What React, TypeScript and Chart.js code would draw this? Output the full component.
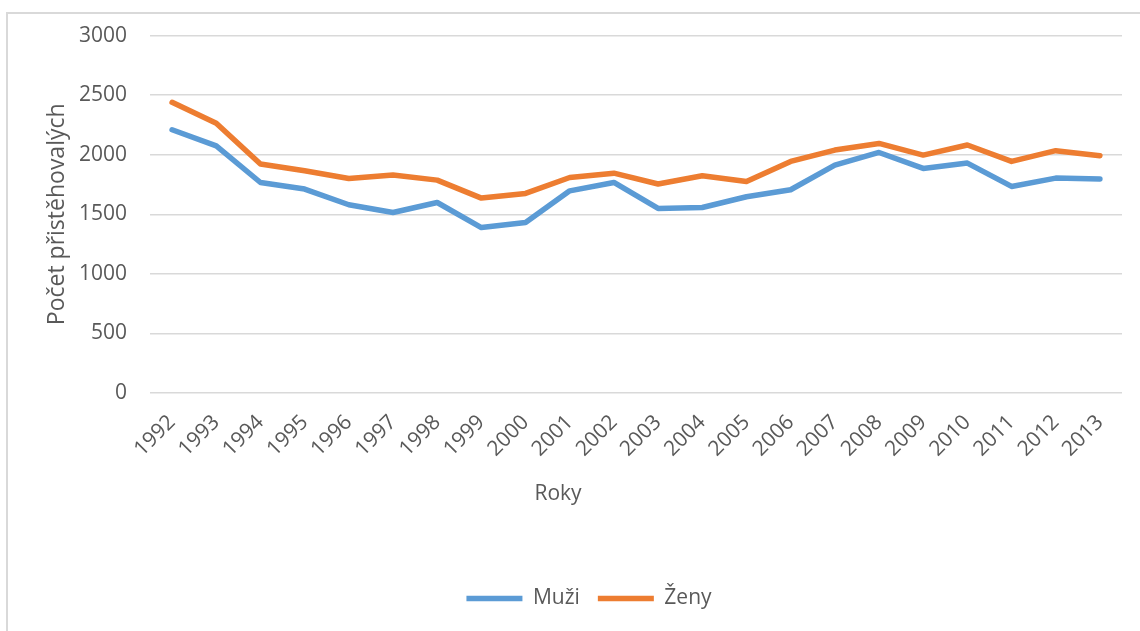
import { useEffect, useRef } from "react";
import { Chart, registerables } from "chart.js";

Chart.register(...registerables);

const years = [
  "1992", "1993", "1994", "1995", "1996", "1997", "1998", "1999", "2000", "2001", "2002",
  "2003", "2004", "2005", "2006", "2007", "2008", "2009", "2010", "2011", "2012", "2013",
];
const muzi = [2210, 2075, 1767, 1712, 1580, 1515, 1599, 1389, 1431, 1697, 1767, 1549, 1557, 1647, 1706, 1913, 2019, 1885, 1930, 1734, 1804, 1796];
const zeny = [2440, 2265, 1922, 1866, 1801, 1829, 1787, 1636, 1675, 1809, 1845, 1754, 1824, 1776, 1944, 2039, 2095, 1997, 2082, 1944, 2034, 1992];
const yAxisTitle = "Počet přistěhovalých";
const xAxisTitle = "Roky";
const seriesNames = ["Muži", "Ženy"];

const FONT = '"Open Sans", sans-serif';
const TEXT = "#595959";
const GRID = "#d9d9d9";

const xTitlePlugin = {
  id: "xTitle",
  afterDraw(chart: any) {
    const { ctx, chartArea } = chart;
    ctx.save();
    ctx.font = `21px ${FONT}`;
    ctx.fillStyle = TEXT;
    ctx.textAlign = "center";
    ctx.textBaseline = "middle";
    ctx.fillText(xAxisTitle, (chartArea.left + chartArea.right) / 2 - 78, 494);
    ctx.restore();
  },
};

export default function App() {
  const ref = useRef<HTMLCanvasElement>(null);
  useEffect(() => {
    if (!ref.current) return;
    const chart = new Chart(ref.current, {
      type: "line",
      data: {
        labels: years,
        datasets: [
          {
            label: seriesNames[0],
            data: muzi,
            borderColor: "#5B9BD5",
            backgroundColor: "#5B9BD5",
            borderWidth: 5.5,
            pointRadius: 0,
            borderCapStyle: "round",
            borderJoinStyle: "round",
            tension: 0,
          },
          {
            label: seriesNames[1],
            data: zeny,
            borderColor: "#ED7D31",
            backgroundColor: "#ED7D31",
            borderWidth: 5.5,
            pointRadius: 0,
            borderCapStyle: "round",
            borderJoinStyle: "round",
            tension: 0,
          },
        ],
      },
      options: {
        responsive: false,
        animation: false,
        layout: { padding: { top: 35, left: 56, right: 18, bottom: 12 } },
        plugins: {
          tooltip: { enabled: false },
          legend: {
            position: "bottom",
            labels: {
              usePointStyle: true,
              pointStyle: "line",
              pointStyleWidth: 56,
              font: { family: FONT, size: 21 },
              color: TEXT,
              padding: 18,
            },
          },
        },
        scales: {
          x: {
            offset: true,
            grid: { display: false, drawTicks: false },
            border: { display: false },
            ticks: {
              autoSkip: false,
              minRotation: 45,
              maxRotation: 45,
              padding: 17,
              font: { family: FONT, size: 21 },
              color: TEXT,
            },
            afterFit(scale: any) {
              scale.height = 177;
            },
          },
          y: {
            min: 0,
            max: 3000,
            border: { display: false },
            grid: { color: GRID, lineWidth: 1.5, drawTicks: false },
            ticks: {
              stepSize: 500,
              padding: 23,
              font: { family: FONT, size: 21 },
              color: TEXT,
              callback: (v: any) => String(v),
            },
            title: {
              display: true,
              text: yAxisTitle,
              font: { family: FONT, size: 23, lineHeight: 1.0 },
              color: TEXT,
              padding: { top: -10, bottom: 0 },
            },
            afterFit(scale: any) {
              scale.width = 94;
            },
          },
        },
      },
      plugins: [xTitlePlugin],
    });
    return () => chart.destroy();
  }, []);

  return (
    <div style={{ position: "absolute", left: 0, top: 0, width: 1140, height: 631, overflow: "hidden", background: "#fff" }}>
      <div
        style={{
          position: "absolute",
          left: 6,
          top: 12,
          width: 1200,
          height: 700,
          borderLeft: `2px solid ${GRID}`,
          borderTop: `2px solid ${GRID}`,
        }}
      />
      <canvas ref={ref} width={1140} height={631} style={{ position: "absolute", left: 0, top: 0 }} />
    </div>
  );
}
